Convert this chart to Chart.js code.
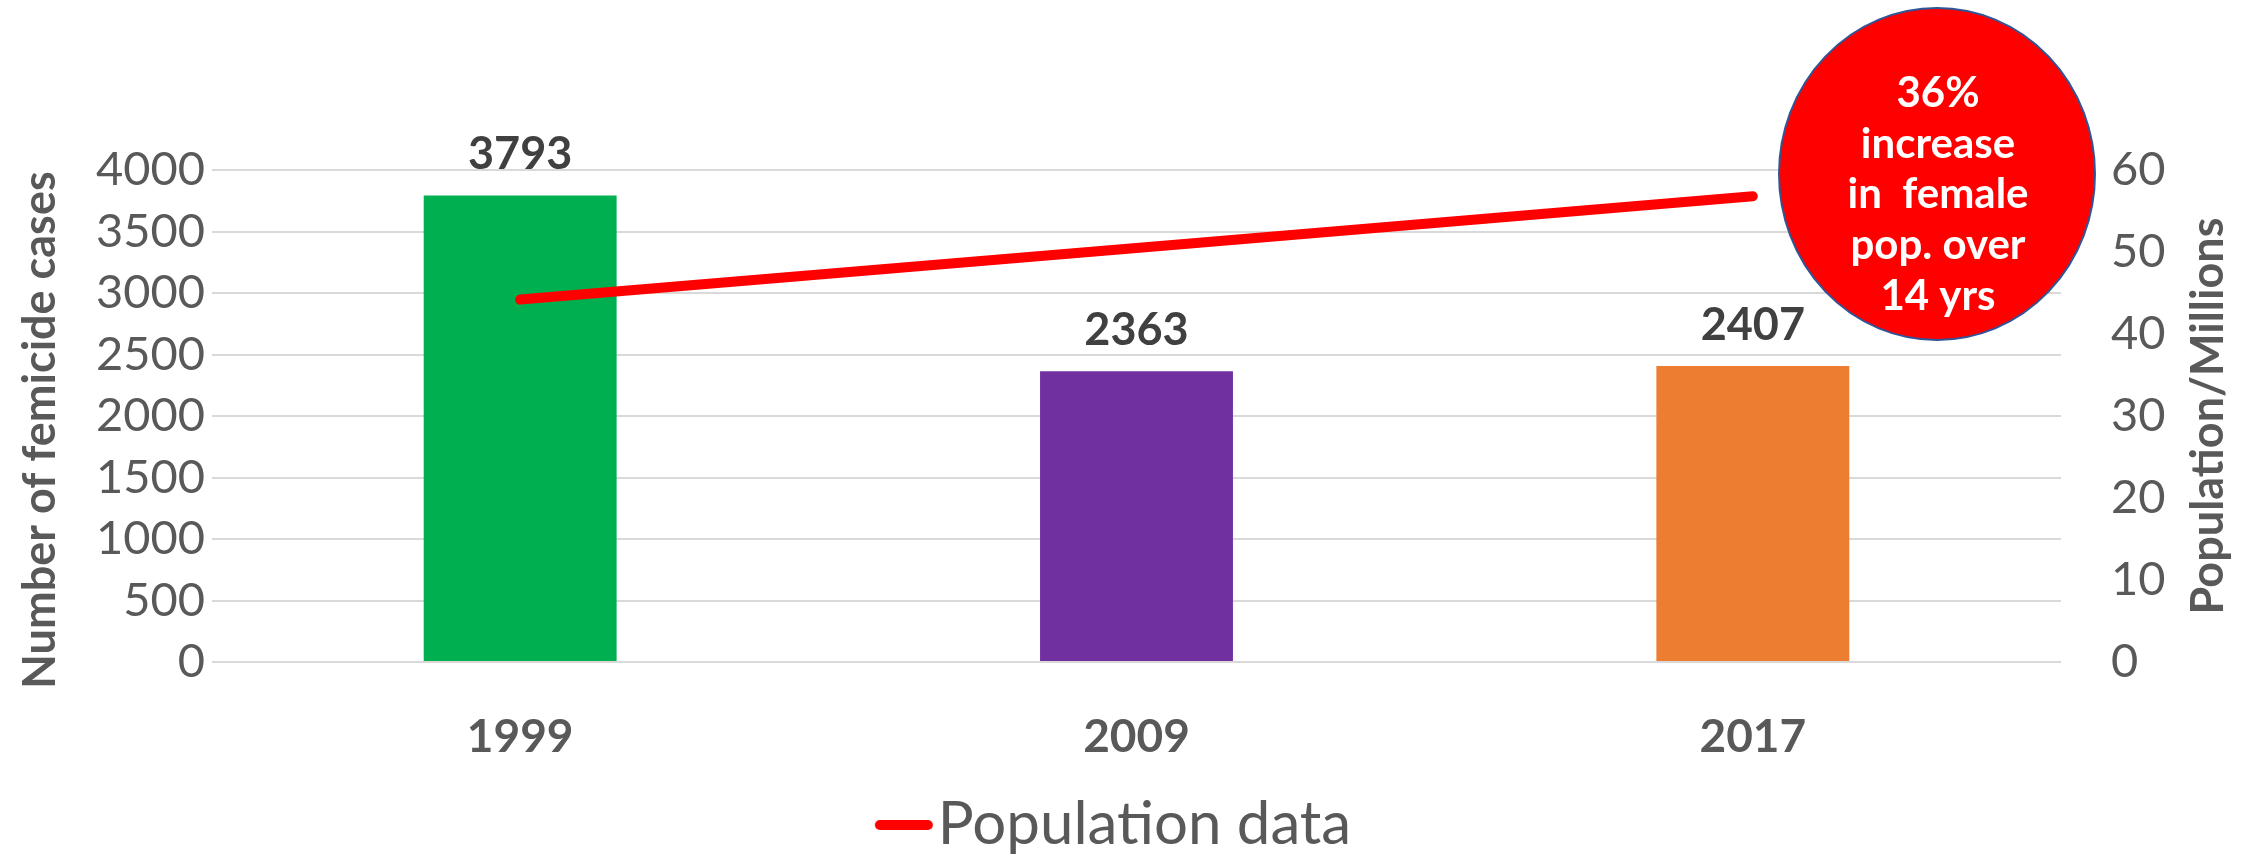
<!DOCTYPE html>
<html>
<head>
<meta charset="utf-8">
<script src="https://cdn.jsdelivr.net/npm/chart.js@4/dist/chart.umd.min.js"></script>
<style>
  html, body { margin: 0; padding: 0; background: #ffffff; }
  #wrap { width: 2249px; height: 855px; }
</style>
</head>
<body>
<div id="wrap"><canvas id="chart" width="2249" height="855"></canvas></div>
<script>
// Survey years on the category axis
const years = ['1999', '2009', '2017'];
// Recorded femicide cases per year (left axis)
const femicideCases = [3793, 2363, 2407];
// Female population in millions (right axis)
const populationMillions = [44.2, 50.5, 56.8];
// Bar fill per year
const barColors = ['#00B050', '#7030A0', '#ED7D31'];
// Axis ticks
const caseTicks = [0, 500, 1000, 1500, 2000, 2500, 3000, 3500, 4000];
const populationTicks = [0, 10, 20, 30, 40, 50, 60];
// Callout text inside the red circle
const calloutLines = ['36%', 'increase', 'in  female', 'pop. over', '14 yrs'];

const FONT = 'Lato, "Open Sans", sans-serif';
const GREY = '#595959';
const LINE_RED = '#FF0000';
const LINE_WIDTH = 10;

// Legend swatch: a short round-capped stroke sitting close to the legend text
function makeLegendSwatch() {
  const c = document.createElement('canvas');
  c.width = 86;
  c.height = 14;
  const g = c.getContext('2d');
  g.strokeStyle = LINE_RED;
  g.lineWidth = LINE_WIDTH;
  g.lineCap = 'round';
  g.beginPath();
  g.moveTo(32, 7);
  g.lineTo(80, 7);
  g.stroke();
  return c;
}

const overlays = {
  id: 'overlays',
  afterDatasetsDraw(chart) {
    const ctx = chart.ctx;
    const area = chart.chartArea;
    ctx.save();

    // value labels above the bars
    const meta = chart.getDatasetMeta(1);
    ctx.font = 'bold 45px ' + FONT;
    ctx.fillStyle = '#404040';
    ctx.textAlign = 'center';
    ctx.textBaseline = 'alphabetic';
    meta.data.forEach((bar, i) => {
      ctx.fillText(String(femicideCases[i]), bar.x, bar.y - 26);
    });

    // axis titles, both reading bottom to top
    ctx.fillStyle = GREY;
    ctx.font = 'bold 45px ' + FONT;
    ctx.textBaseline = 'middle';
    ctx.save();
    ctx.translate(40, 430);
    ctx.rotate(-Math.PI / 2);
    ctx.fillText('Number of femicide cases', 0, 0);
    ctx.restore();
    ctx.save();
    ctx.translate(chart.width - 41, (area.top + area.bottom) / 2);
    ctx.rotate(-Math.PI / 2);
    ctx.fillText('Population/Millions', 0, 0);
    ctx.restore();

    // red callout circle
    const cx = area.right - 124;
    const cy = area.top + 4;
    ctx.beginPath();
    ctx.ellipse(cx, cy, 158, 166, 0, 0, Math.PI * 2);
    ctx.fillStyle = '#FF0000';
    ctx.fill();
    ctx.lineWidth = 2;
    ctx.strokeStyle = '#2F5597';
    ctx.stroke();

    ctx.fillStyle = '#FFFFFF';
    ctx.font = 'bold 42px ' + FONT;
    ctx.textBaseline = 'alphabetic';
    calloutLines.forEach((line, i) => {
      ctx.fillText(line, cx + 1, cy - 67 + i * 50.7);
    });
    ctx.restore();
  }
};

new Chart(document.getElementById('chart'), {
  data: {
    labels: years,
    datasets: [
      {
        type: 'line',
        label: 'Population data',
        data: populationMillions,
        yAxisID: 'y1',
        borderColor: LINE_RED,
        backgroundColor: LINE_RED,
        borderWidth: LINE_WIDTH,
        borderCapStyle: 'round',
        pointRadius: 0,
        pointHoverRadius: 0,
        tension: 0,
        order: 1
      },
      {
        type: 'bar',
        label: 'Femicide cases',
        data: femicideCases,
        yAxisID: 'y',
        backgroundColor: barColors,
        borderWidth: 0,
        categoryPercentage: 1,
        barPercentage: 0.313,
        order: 2
      }
    ]
  },
  options: {
    responsive: false,
    animation: false,
    events: [],
    layout: { padding: { top: 170, left: 0, right: 24, bottom: 0 } },
    plugins: {
      tooltip: { enabled: false },
      legend: {
        position: 'bottom',
        maxHeight: 60,
        labels: {
          filter: (item) => item.datasetIndex === 0,
          usePointStyle: true,
          pointStyle: makeLegendSwatch(),
          pointStyleWidth: 34,
          color: GREY,
          font: { family: FONT, size: 60, lineHeight: 1 },
          padding: 0
        }
      }
    },
    scales: {
      x: {
        grid: { display: false },
        border: { display: false },
        ticks: {
          color: GREY,
          font: { family: FONT, size: 46, weight: 'bold' },
          padding: 40,
          maxRotation: 0
        },
        afterFit(scale) { scale.height = 133; }
      },
      y: {
        position: 'left',
        min: 0,
        max: 4000,
        afterBuildTicks(scale) { scale.ticks = caseTicks.map(v => ({ value: v })); },
        grid: { color: '#D9D9D9', lineWidth: 2, drawTicks: false },
        border: { display: false },
        ticks: {
          color: GREY,
          font: { family: FONT, size: 47 },
          padding: 7,
          callback: (v) => String(v)
        },
        afterFit(scale) { scale.width = 212; }
      },
      y1: {
        position: 'right',
        min: 0,
        max: 60,
        afterBuildTicks(scale) { scale.ticks = populationTicks.map(v => ({ value: v })); },
        grid: { drawOnChartArea: false, drawTicks: false },
        border: { display: false },
        ticks: {
          color: GREY,
          font: { family: FONT, size: 47 },
          padding: 50,
          callback: (v) => String(v)
        },
        afterFit(scale) { scale.width = 164; }
      }
    }
  },
  plugins: [overlays]
});
</script>
</body>
</html>
